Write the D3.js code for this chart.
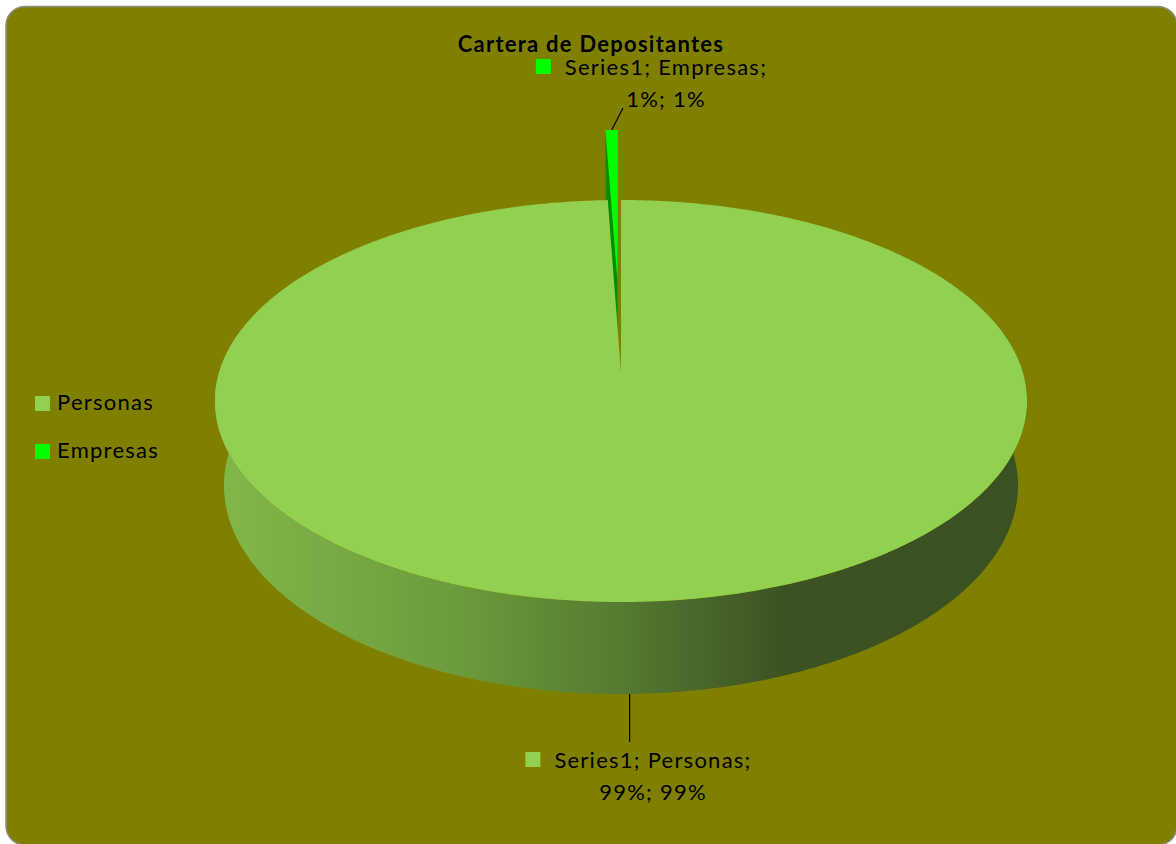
<!DOCTYPE html>
<html>
<head>
<meta charset="utf-8">
<script src="https://cdn.jsdelivr.net/npm/d3@7/dist/d3.min.js"></script>
<style>
  html, body { margin: 0; padding: 0; background: #ffffff; }
  svg { display: block; }
  text { font-family: Lato, "Noto Sans", sans-serif; fill: #000; letter-spacing: 1.25px; }
</style>
</head>
<body>
<svg id="chart" width="1176" height="844"></svg>
<script>
// ---- data ----
const title = "Cartera de Depositantes";
const seriesName = "Series1";
const categories = ["Personas", "Empresas"];
const values = [0.994, 0.006];
const colors = ["#92D050", "#00FF00"];
const explode = [0, 0.495];

// ---- layout ----
const svg = d3.select("#chart");
const fmt = d3.format(".0%");
const FS = 22;

// frame
svg.append("rect")
  .attr("x", 6).attr("y", 6.5).attr("width", 1171).attr("height", 838.5)
  .attr("rx", 19).attr("ry", 19)
  .attr("fill", "#808000").attr("stroke", "#8c8c8c").attr("stroke-width", 1.5);

// perspective projection of the pie disk (u = sin a, v = cos a, d = depth 0..1)
const cx = 621, cy0 = 372;
const sx = d3.scaleLinear().domain([0, 1]).range([0, 401.8]);
const sy = d3.scaleLinear().domain([0, 1]).range([0, 196.8]);
const sd = d3.scaleLinear().domain([0, 1]).range([0, 85.9]);
const kPersp = 0.1443, jPersp = 0.0223;
function proj(u, v, d) {
  const w = 1 + kPersp * v + jPersp * d;
  return [cx + sx(u) / w, cy0 + (-sy(v) + sd(d)) / w];
}
function pt(a, r, d, off) {
  return proj(r * Math.sin(a) + off[0], r * Math.cos(a) + off[1], d);
}
function arcPts(a0, a1, d, off) {
  const pts = [];
  const steps = Math.max(2, Math.ceil(Math.abs(a1 - a0) / (Math.PI / 180)) * 2);
  for (let i = 0; i <= steps; i++) {
    pts.push(pt(a0 + (a1 - a0) * i / steps, 1, d, off));
  }
  return pts;
}
const line = d3.line();

const pie = d3.pie().sort(null).value(d => d.value).startAngle(0).endAngle(2 * Math.PI);
const data = categories.map((c, i) => ({ name: c, value: values[i], color: colors[i], explode: explode[i] }));
const arcs = pie(data);
arcs.forEach(a => {
  const m = (a.startAngle + a.endAngle) / 2;
  a.mid = m;
  a.off = [a.data.explode * Math.sin(m), a.data.explode * Math.cos(m)];
});

// side gradient
const defs = svg.append("defs");
const grad = defs.append("linearGradient").attr("id", "sideGrad")
  .attr("gradientUnits", "userSpaceOnUse").attr("x1", 215).attr("x2", 1027).attr("y1", 0).attr("y2", 0);
[[0, "#82b84a"], [0.3, "#6c9b3b"], [0.5, "#567a31"], [0.7, "#3b5322"], [1, "#3a5121"]]
  .forEach(s => grad.append("stop").attr("offset", s[0]).attr("stop-color", s[1]));

const g = svg.append("g");

// Exploded (back) slices first: left cut face + top face
arcs.filter(a => a.data.explode > 0).forEach(a => {
  const off = a.off;
  const apexT = proj(off[0], off[1], 0), apexB = proj(off[0], off[1], 1);
  const rimT = pt(a.startAngle, 1, 0, off), rimB = pt(a.startAngle, 1, 1, off);
  g.append("path")
    .attr("d", line([rimT, apexT, apexB, rimB]) + "Z")
    .attr("fill", d3.color(a.data.color).darker(1.6));
  const top = [apexT].concat(arcPts(a.startAngle, a.endAngle, 0, off));
  g.append("path").attr("d", line(top) + "Z").attr("fill", a.data.color);
});

// Front slices: side band then top face
arcs.filter(a => a.data.explode === 0).forEach(a => {
  const off = a.off;
  const s0 = Math.max(a.startAngle, Math.PI / 3), s1 = Math.min(a.endAngle, 5 * Math.PI / 3);
  if (s1 > s0) {
    const topArc = arcPts(s0, s1, 0, off);
    const botArc = arcPts(s1, s0, 1, off);
    g.append("path").attr("d", line(topArc.concat(botArc)) + "Z")
      .attr("fill", "url(#sideGrad)");
  }
  const top = [proj(off[0], off[1], 0)].concat(arcPts(a.startAngle, a.endAngle, 0, off));
  g.append("path").attr("d", line(top) + "Z").attr("fill", a.data.color);
});

// Title
svg.append("text").attr("x", 591).attr("y", 52).attr("text-anchor", "middle")
  .attr("font-weight", "bold").attr("font-size", FS).text(title);

// Legend
const legend = svg.append("g");
categories.forEach((c, i) => {
  const y = 396 + i * 48;
  legend.append("rect").attr("x", 35).attr("y", y).attr("width", 15).attr("height", 15).attr("fill", colors[i]);
  legend.append("text").attr("x", 57).attr("y", y + 14).attr("font-size", FS).text(c);
});

// Data labels with leader lines
const labelPos = {
  "Empresas": { cx: 666, y1: 75, lineEnd: [623, 108], top: true },
  "Personas": { cx: 653, y1: 768, lineEnd: null, top: false }
};
arcs.forEach(a => {
  const lp = labelPos[a.data.name];
  let start, end;
  if (lp.top) {
    start = pt(a.mid, 1, 0, a.off);
    end = lp.lineEnd;
  } else {
    start = pt(a.mid, 1, 1, a.off);
    end = [start[0], 742];
  }
  svg.append("line").attr("x1", start[0]).attr("y1", start[1]).attr("x2", end[0]).attr("y2", end[1])
    .attr("stroke", "#000").attr("stroke-width", 1.2);
  const t1 = svg.append("text").attr("x", lp.cx).attr("y", lp.y1).attr("text-anchor", "middle")
    .attr("font-size", FS).text(`${seriesName}; ${a.data.name};`);
  svg.append("text").attr("x", lp.cx).attr("y", lp.y1 + 31.5).attr("text-anchor", "middle")
    .attr("font-size", FS).text(`${fmt(a.data.value)}; ${fmt(a.value / d3.sum(values))}`);
  const w1 = t1.node().getComputedTextLength();
  svg.append("rect").attr("x", lp.cx - w1 / 2 - 29).attr("y", lp.y1 - 16).attr("width", 15).attr("height", 15)
    .attr("fill", a.data.color);
});
</script>
</body>
</html>
